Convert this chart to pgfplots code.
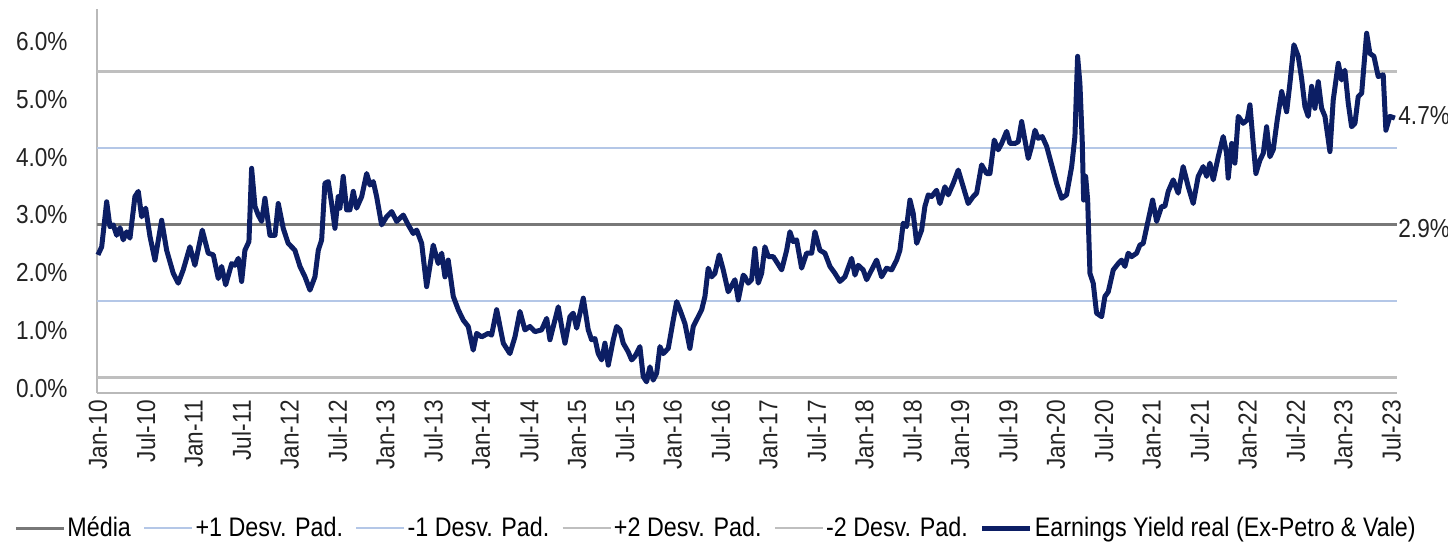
\documentclass[border=0pt]{standalone}
\usepackage{pgfplots}
\pgfplotsset{compat=1.18}
\usepackage{fontspec}
\setmainfont{Liberation Sans}[FakeStretch=0.87]
\definecolor{eyblue}{RGB}{12,30,100}
\definecolor{meangray}{RGB}{120,120,120}
\definecolor{sdblue}{RGB}{180,199,231}
\definecolor{sdgray}{RGB}{191,191,191}
\definecolor{axgray}{RGB}{185,185,185}
\definecolor{txt}{RGB}{35,35,35}
\begin{document}
\begin{tikzpicture}[font=\fontsize{13}{15.6}\selectfont]
\begin{axis}[
  scale only axis, width=650pt, height=192pt,
  xmin=2009.99, xmax=2023.56, ymin=-0.043, ymax=6.61,
  enlargelimits=false, clip=false,
  axis x line=bottom, axis y line=left,
  axis line style={draw=axgray, line width=1pt, -},
  major tick length=0pt,
  xtick={2010,2010.5,2011,2011.5,2012,2012.5,2013,2013.5,2014,2014.5,2015,2015.5,2016,2016.5,2017,2017.5,2018,2018.5,2019,2019.5,2020,2020.5,2021,2021.5,2022,2022.5,2023,2023.5},
  xticklabels={Jan-10,Jul-10,Jan-11,Jul-11,Jan-12,Jul-12,Jan-13,Jul-13,Jan-14,Jul-14,Jan-15,Jul-15,Jan-16,Jul-16,Jan-17,Jul-17,Jan-18,Jul-18,Jan-19,Jul-19,Jan-20,Jul-20,Jan-21,Jul-21,Jan-22,Jul-22,Jan-23,Jul-23},
  ytick={0,1,2,3,4,5,6},
  yticklabels={0.0\%,1.0\%,2.0\%,3.0\%,4.0\%,5.0\%,6.0\%},
  xticklabel style={anchor=east, rotate=90, inner xsep=3.5pt, inner ysep=0pt, text=txt},
  yticklabel style={anchor=east, inner sep=0pt, xshift=-14.5pt, yshift=1.2pt, text=txt},
  legend columns=-1,
  legend style={at={(-0.0638,-0.3516)}, anchor=west, draw=none, fill=none, inner sep=0pt,
    font=\fontsize{13.4}{16}\selectfont,
    /tikz/every even column/.append style={column sep=5pt},
    nodes={inner xsep=1pt, inner ysep=0pt, text=black}},
  legend image code/.code={\draw[#1] (0pt,0pt) -- (24pt,0pt);},
]
\addplot[meangray, line width=1.5pt] coordinates {(2009.99,2.88) (2023.56,2.88)};
\addlegendentry{Média}
\addplot[sdblue, line width=1.3pt] coordinates {(2009.99,4.20) (2023.56,4.20)};
\addlegendentry{+1 Desv. Pad.}
\addplot[sdblue, line width=1.3pt] coordinates {(2009.99,1.55) (2023.56,1.55)};
\addlegendentry{-1 Desv. Pad.}
\addplot[sdgray, line width=1.3pt] coordinates {(2009.99,5.53) (2023.56,5.53)};
\addlegendentry{+2 Desv. Pad.}
\addplot[sdgray, line width=1.3pt] coordinates {(2009.99,0.225) (2023.56,0.225)};
\addlegendentry{-2 Desv. Pad.}
\addplot[eyblue, line width=2.5pt, line join=round] coordinates {
(2010.000,2.35) (2010.039,2.49) (2010.091,3.27) (2010.125,2.84) (2010.160,2.87) (2010.195,2.69)
(2010.230,2.82) (2010.264,2.61) (2010.300,2.75) (2010.334,2.64) (2010.386,3.36) (2010.421,3.45)
(2010.456,3.01) (2010.498,3.16) (2010.543,2.67) (2010.595,2.26) (2010.665,2.95) (2010.717,2.43)
(2010.786,2.03) (2010.838,1.86) (2010.890,2.09) (2010.960,2.49) (2011.012,2.17) (2011.089,2.78)
(2011.151,2.38) (2011.204,2.35) (2011.256,1.94) (2011.291,2.15) (2011.333,1.83) (2011.396,2.20)
(2011.430,2.17) (2011.465,2.29) (2011.500,1.89) (2011.534,2.43) (2011.576,2.58) (2011.604,3.85)
(2011.639,3.19) (2011.673,3.04) (2011.709,2.93) (2011.743,3.33) (2011.795,2.69) (2011.848,2.69)
(2011.882,3.24) (2011.934,2.81) (2011.986,2.55) (2012.056,2.43) (2012.109,2.15) (2012.161,1.97)
(2012.213,1.74) (2012.265,1.97) (2012.300,2.43) (2012.335,2.61) (2012.369,3.59) (2012.404,3.62)
(2012.439,3.24) (2012.474,2.81) (2012.508,3.36) (2012.526,3.16) (2012.560,3.71) (2012.596,3.13)
(2012.630,3.13) (2012.665,3.45) (2012.700,3.16) (2012.753,3.36) (2012.805,3.76) (2012.839,3.56)
(2012.874,3.62) (2012.909,3.36) (2012.961,2.87) (2013.013,3.01) (2013.066,3.10) (2013.118,2.93)
(2013.187,3.04) (2013.239,2.87) (2013.291,2.72) (2013.327,2.78) (2013.379,2.55) (2013.431,1.80)
(2013.500,2.52) (2013.552,2.20) (2013.588,2.38) (2013.622,1.97) (2013.656,2.26) (2013.709,1.63)
(2013.761,1.40) (2013.813,1.22) (2013.865,1.11) (2013.917,0.70) (2013.953,0.99) (2014.005,0.93)
(2014.074,0.99) (2014.109,0.96) (2014.162,1.40) (2014.231,0.82) (2014.300,0.64) (2014.353,0.93)
(2014.405,1.37) (2014.457,1.05) (2014.509,1.11) (2014.561,1.02) (2014.631,1.05) (2014.684,1.25)
(2014.718,0.88) (2014.770,1.22) (2014.805,1.45) (2014.840,1.11) (2014.875,0.82) (2014.927,1.28)
(2014.961,1.34) (2014.997,1.08) (2015.066,1.60) (2015.118,1.05) (2015.153,0.88) (2015.188,0.90)
(2015.222,0.64) (2015.258,0.53) (2015.292,0.82) (2015.327,0.44) (2015.379,0.88) (2015.414,1.11)
(2015.449,1.05) (2015.483,0.82) (2015.535,0.67) (2015.571,0.53) (2015.605,0.59) (2015.657,0.76)
(2015.692,0.24) (2015.727,0.15) (2015.762,0.41) (2015.796,0.18) (2015.832,0.30) (2015.866,0.76)
(2015.901,0.64) (2015.953,0.73) (2016.005,1.22) (2016.041,1.54) (2016.075,1.40) (2016.127,1.16)
(2016.179,0.73) (2016.214,1.11) (2016.266,1.28) (2016.302,1.40) (2016.336,1.63) (2016.370,2.12)
(2016.406,1.97) (2016.440,2.03) (2016.485,2.35) (2016.527,2.09) (2016.579,1.71) (2016.649,1.92)
(2016.684,1.57) (2016.736,2.00) (2016.753,1.97) (2016.788,1.86) (2016.823,1.92) (2016.858,2.46)
(2016.892,1.86) (2016.928,2.03) (2016.962,2.49) (2016.997,2.32) (2017.049,2.32) (2017.084,2.23)
(2017.137,2.09) (2017.189,2.43) (2017.223,2.75) (2017.258,2.58) (2017.293,2.61) (2017.345,2.12)
(2017.397,2.38) (2017.450,2.38) (2017.484,2.75) (2017.536,2.43) (2017.588,2.38) (2017.641,2.15)
(2017.693,2.03) (2017.745,1.89) (2017.797,1.97) (2017.867,2.29) (2017.902,2.00) (2017.936,2.17)
(2017.988,2.09) (2018.024,1.92) (2018.076,2.09) (2018.128,2.26) (2018.180,1.97) (2018.232,2.12)
(2018.285,2.09) (2018.337,2.26) (2018.371,2.43) (2018.406,2.90) (2018.441,2.84) (2018.476,3.30)
(2018.510,3.07) (2018.546,2.55) (2018.598,2.78) (2018.632,3.19) (2018.667,3.39) (2018.702,3.36)
(2018.754,3.47) (2018.789,3.24) (2018.841,3.53) (2018.876,3.39) (2018.928,3.59) (2018.980,3.82)
(2019.032,3.53) (2019.084,3.24) (2019.136,3.36) (2019.172,3.42) (2019.224,3.91) (2019.276,3.76)
(2019.311,3.76) (2019.356,4.34) (2019.397,4.17) (2019.433,4.28) (2019.485,4.49) (2019.520,4.28)
(2019.572,4.28) (2019.606,4.31) (2019.642,4.66) (2019.676,4.34) (2019.711,4.02) (2019.746,4.23)
(2019.781,4.51) (2019.815,4.37) (2019.857,4.40) (2019.903,4.23) (2019.955,3.91) (2020.007,3.59)
(2020.059,3.33) (2020.111,3.39) (2020.164,3.88) (2020.198,4.40) (2020.226,5.79) (2020.250,5.32)
(2020.274,4.34) (2020.289,3.30) (2020.310,3.71) (2020.331,3.30) (2020.355,2.03) (2020.389,1.86)
(2020.424,1.34) (2020.477,1.28) (2020.511,1.63) (2020.546,1.71) (2020.598,2.09) (2020.650,2.20)
(2020.685,2.26) (2020.720,2.15) (2020.754,2.38) (2020.790,2.32) (2020.842,2.38) (2020.876,2.52)
(2020.911,2.55) (2020.963,2.95) (2021.009,3.30) (2021.051,2.93) (2021.103,3.19) (2021.137,3.19)
(2021.172,3.45) (2021.224,3.65) (2021.276,3.42) (2021.328,3.88) (2021.381,3.53) (2021.433,3.24)
(2021.485,3.71) (2021.537,3.88) (2021.573,3.71) (2021.607,3.94) (2021.642,3.65) (2021.694,4.05)
(2021.746,4.40) (2021.781,4.11) (2021.798,3.68) (2021.834,4.28) (2021.868,3.94) (2021.903,4.75)
(2021.955,4.63) (2021.997,4.69) (2022.025,4.95) (2022.059,4.28) (2022.087,3.76) (2022.129,3.99)
(2022.164,4.11) (2022.199,4.57) (2022.233,4.05) (2022.268,4.17) (2022.310,4.69) (2022.356,5.18)
(2022.408,4.83) (2022.442,5.32) (2022.484,5.99) (2022.529,5.79) (2022.564,5.41) (2022.599,4.92)
(2022.633,4.75) (2022.669,5.27) (2022.703,4.89) (2022.738,5.35) (2022.773,4.89) (2022.808,4.75)
(2022.860,4.14) (2022.894,5.03) (2022.947,5.67) (2022.982,5.38) (2023.016,5.55) (2023.051,4.98)
(2023.086,4.57) (2023.121,4.63) (2023.155,5.09) (2023.191,5.15) (2023.243,6.19) (2023.277,5.84)
(2023.319,5.79) (2023.364,5.44) (2023.416,5.47) (2023.444,4.51) (2023.486,4.75) (2023.538,4.72)
};
\addlegendentry{Earnings Yield real (Ex-Petro \& Vale)}
\node[anchor=west, inner sep=0.5pt, text=txt] at (axis cs:2023.56,2.81) {2.9\%};
\node[anchor=west, inner sep=0.5pt, text=txt] at (axis cs:2023.56,4.77) {4.7\%};
\end{axis}
\pgfresetboundingbox
\path[use as bounding box] ([xshift=-48.5pt,yshift=-77pt]current axis.south west) rectangle ++(724pt,273.5pt);
\end{tikzpicture}
\end{document}
